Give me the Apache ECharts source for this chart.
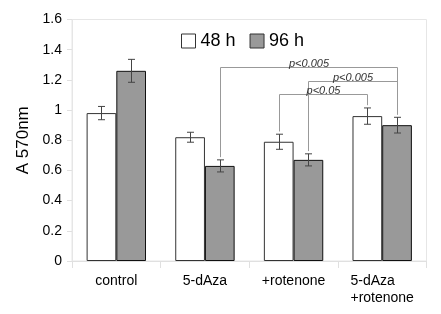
<!DOCTYPE html>
<html>
<head>
<meta charset="utf-8">
<script src="https://cdn.jsdelivr.net/npm/echarts@6/dist/echarts.min.js"></script>
<style>html,body{margin:0;padding:0;background:#fff}#c{width:441px;height:314px}</style>
</head>
<body>
<div id="c"></div>
<script>
var categories = ['control', '5-dAza', '+rotenone', '5-dAza\n+rotenone'];
var seriesNames = ['48 h', '96 h'];
var values48 = [0.98, 0.82, 0.79, 0.96];
var errors48 = [0.044, 0.033, 0.05, 0.054];
var values96 = [1.26, 0.63, 0.67, 0.90];
var errors96 = [0.076, 0.04, 0.04, 0.052];
var yTicks = [0, 0.2, 0.4, 0.6, 0.8, 1, 1.2, 1.4, 1.6];
// significance brackets: from (category, series) to (category, series) at level
var bracketLabels = ['p<0.005', 'p<0.005', 'p<0.05'];
var bracketFromCat = [1, 2, 2];
var bracketFromSer = [1, 1, 0];
var bracketToCat = [3, 3, 3];
var bracketToSer = [1, 1, 0];
var bracketLevel = [1.287, 1.19, 1.104];

var vals = [values48, values96];
var errs = [errors48, errors96];
var CAT_GAP = 0.33;

function barX(api, cat, ser) {
  var c = api.coord([cat, 0]);
  var band = api.size([1, 0])[0];
  var bw = band * (1 - CAT_GAP) / 2;
  return c[0] + (ser === 0 ? -bw / 2 : bw / 2);
}

var errData = [];
for (var s = 0; s < 2; s++) {
  for (var i = 0; i < categories.length; i++) {
    errData.push([i, vals[s][i], errs[s][i], s]);
  }
}
var brData = [];
for (var b = 0; b < bracketLabels.length; b++) {
  brData.push([bracketFromCat[b], bracketLevel[b], bracketFromSer[b], bracketToCat[b], bracketToSer[b], b]);
}

var chart = echarts.init(document.getElementById('c'), null, {renderer: 'canvas'});
var FONT = 'Liberation Sans, Arial, sans-serif';
chart.setOption({
  animation: false,
  textStyle: {fontFamily: FONT},
  grid: {left: 72, right: 14.5, top: 19.5, bottom: 53, show: true, borderColor: '#e6e6e6', borderWidth: 1},
  legend: {
    top: 27, left: 176,
    itemWidth: 14, itemHeight: 14, itemGap: 14,
    icon: 'rect',
    textStyle: {fontSize: 18, color: '#000', fontFamily: FONT},
    data: [
      {name: '48 h', itemStyle: {color: '#fff', borderColor: '#333', borderWidth: 1}},
      {name: '96 h', itemStyle: {color: '#999', borderColor: '#333', borderWidth: 1}}
    ]
  },
  xAxis: {
    type: 'category',
    data: categories,
    axisLine: {lineStyle: {color: '#e0e0e0'}},
    axisTick: {show: true, length: 7, lineStyle: {color: '#e0e0e0'}},
    axisLabel: {
      interval: 0,
      margin: 12, fontSize: 14, color: '#000', lineHeight: 17,
      formatter: function (v) {
        return v.split('\n').map(function (t) { return '{l|' + t + '}'; }).join('\n');
      },
      rich: {l: {align: 'left', fontSize: 14, color: '#000', lineHeight: 17, fontFamily: FONT}}
    }
  },
  yAxis: {
    type: 'value', min: 0, max: 1.6, interval: 0.2,
    name: 'A 570nm', nameLocation: 'middle', nameRotate: 90, nameGap: 38,
    nameTextStyle: {fontSize: 17, color: '#000', fontFamily: FONT},
    axisLine: {show: true, lineStyle: {color: '#e6e6e6'}},
    axisTick: {show: true, length: 5, lineStyle: {color: '#e0e0e0'}},
    splitLine: {show: false},
    axisLabel: {
      fontSize: 14, color: '#000', margin: 10,
      formatter: function (v) {
        for (var k = 0; k < yTicks.length; k++) if (Math.abs(yTicks[k] - v) < 1e-9) return String(yTicks[k]);
        return '';
      }
    }
  },
  series: [
    {name: '48 h', type: 'bar', data: values48, barGap: '0%', barCategoryGap: (CAT_GAP * 100) + '%',
      itemStyle: {color: '#fff', borderColor: '#333', borderWidth: 1}},
    {name: '96 h', type: 'bar', data: values96, barGap: '0%', barCategoryGap: (CAT_GAP * 100) + '%',
      itemStyle: {color: '#999', borderColor: '#111', borderWidth: 1}},
    {
      type: 'custom', z: 5, data: errData, encode: {x: 0, y: 1},
      renderItem: function (params, api) {
        var cat = api.value(0), v = api.value(1), e = api.value(2), s = api.value(3);
        var x = Math.round(barX(api, cat, s)) + 0.5;
        var yt = api.coord([cat, v + e])[1];
        var yb = api.coord([cat, v - e])[1];
        var cw = 3.5;
        var st = {stroke: '#444', lineWidth: 1, fill: null};
        return {type: 'group', children: [
          {type: 'line', shape: {x1: x, y1: yt, x2: x, y2: yb}, style: st},
          {type: 'line', shape: {x1: x - cw, y1: yt, x2: x + cw, y2: yt}, style: st},
          {type: 'line', shape: {x1: x - cw, y1: yb, x2: x + cw, y2: yb}, style: st}
        ]};
      }
    },
    {
      type: 'custom', z: 6, data: brData, encode: {x: 0, y: 1},
      renderItem: function (params, api) {
        var fc = api.value(0), lvl = api.value(1), fs = api.value(2), tc = api.value(3), ts = api.value(4), bi = api.value(5);
        var x1 = Math.round(barX(api, fc, fs)) + 0.5;
        var x2 = Math.round(barX(api, tc, ts)) + 0.5;
        var yl = Math.round(api.coord([fc, lvl])[1]) + 0.5;
        var y1 = api.coord([fc, vals[fs][fc] + errs[fs][fc] + 0.018])[1];
        var y2 = api.coord([tc, vals[ts][tc] + errs[ts][tc] + 0.018])[1];
        return {type: 'group', children: [
          {type: 'polyline', shape: {points: [[x1, y1], [x1, yl], [x2, yl], [x2, y2]]},
            style: {stroke: '#999', lineWidth: 1, fill: null}},
          {type: 'text', x: (x1 + x2) / 2, y: yl + 2,
            style: {text: bracketLabels[bi], fontSize: 11, fontStyle: 'italic', fontFamily: FONT,
              fill: '#333', align: 'center', verticalAlign: 'bottom'}}
        ]};
      }
    }
  ]
});
</script>
</body>
</html>
